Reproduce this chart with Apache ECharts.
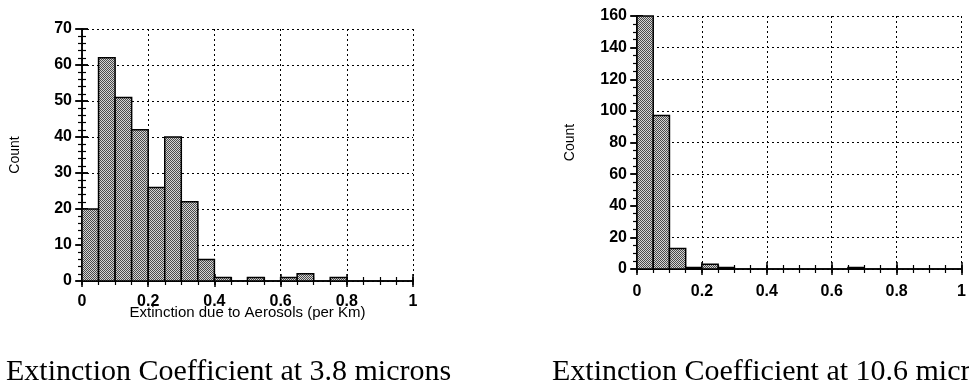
<!DOCTYPE html>
<html>
<head>
<meta charset="utf-8">
<script src="https://cdn.jsdelivr.net/npm/echarts@6/dist/echarts.min.js"></script>
<style>
html,body{margin:0;padding:0;background:#fff;}
#chart{width:969px;height:381px;}
</style>
</head>
<body>
<div id="chart"></div>
<script>
// ---- data ----
const binStarts = [0,0.05,0.1,0.15,0.2,0.25,0.3,0.35,0.4,0.45,0.5,0.55,0.6,0.65,0.7,0.75,0.8,0.85,0.9,0.95];
const binWidth = 0.05;
const counts38  = [20,62,51,42,26,40,22,6,1,0,1,0,1,2,0,1,0,0,0,0];
const counts106 = [160,97,13,1,3,1,0,0,0,0,0,0,0,1,0,0,0,0,0,0];
const title38 = 'Extinction Coefficient at 3.8 microns';
const title106 = 'Extinction Coefficient at 10.6 microns';
const xName38 = 'Extinction due to Aerosols (per Km)';
const yName = 'Count';

// stipple fill pattern
const pc = document.createElement('canvas');
pc.width = 2; pc.height = 2;
const pctx = pc.getContext('2d');
pctx.fillStyle = '#d4d4d4'; pctx.fillRect(0,0,2,2);
pctx.fillStyle = '#4a4a4a'; pctx.fillRect(0,0,1,1); pctx.fillRect(1,1,1,1);
const stipple = {image: pc, repeat: 'repeat'};

const FONT = "'Liberation Sans', Arial, Helvetica, sans-serif";
const lineC = '#000';

function makeData(counts){ return binStarts.map((s,i)=>[s, s+binWidth, counts[i]]); }

function xAxes(grid, opts){
  const base = {type:'value', gridIndex:grid, min:0, max:1, interval:0.2};
  return [
    Object.assign({}, base, {position:'bottom',
      axisLine:{show:true, lineStyle:{color:lineC, width:1.5}},
      axisTick:{show:true, inside:false, length:6, lineStyle:{color:lineC, width:1.5}},
      axisLabel:{show:true, margin:opts.labelMargin, color:'#000', fontFamily:FONT, fontSize:16, fontWeight:'bold',
        formatter:v=>String(v)},
      splitLine:{show:true, lineStyle:{color:'#000', type:[2,3], width:1}},
      name:opts.name||'', nameLocation:'middle', nameGap:opts.nameGap||0, nameMoveOverlap:false,
      nameTextStyle:{color:'#000', fontFamily:FONT, fontSize:15}}),
    Object.assign({}, base, {position:'bottom',
      axisLine:{show:false}, axisLabel:{show:false}, splitLine:{show:false},
      axisTick:{show:true, inside:true, length:4, lineStyle:{color:lineC, width:1.5}},
      minorTick:{show:true, splitNumber:4, length:4, lineStyle:{color:lineC, width:1.2}}}),
    Object.assign({}, base, {position:'top',
      axisLine:{show:true, lineStyle:{color:lineC, width:1.5}}, axisLabel:{show:false}, splitLine:{show:false},
      axisTick:{show:true, inside:false, length:7, lineStyle:{color:lineC, width:1.5}}}),
    Object.assign({}, base, {position:'top',
      axisLine:{show:false}, axisLabel:{show:false}, splitLine:{show:false},
      axisTick:{show:true, inside:true, length:4, lineStyle:{color:lineC, width:1.5}},
      minorTick:{show:true, splitNumber:4, length:4, lineStyle:{color:lineC, width:1.2}}})
  ];
}
function yAxes(grid, max, interval, minorSplit, opts){
  const base = {type:'value', gridIndex:grid, min:0, max:max, interval:interval};
  return [
    Object.assign({}, base, {position:'left',
      axisLine:{show:true, lineStyle:{color:lineC, width:1.5}},
      axisTick:{show:true, inside:false, length:7, lineStyle:{color:lineC, width:1.5}},
      axisLabel:{show:true, margin:10, color:'#000', fontFamily:FONT, fontSize:16, fontWeight:'bold'},
      splitLine:{show:true, lineStyle:{color:'#000', type:[2,3], width:1}},
      name:yName, nameLocation:'middle', nameGap:opts.nameGap, nameRotate:90,
      nameTextStyle:{color:'#000', fontFamily:FONT, fontSize:14}}),
    Object.assign({}, base, {position:'left',
      axisLine:{show:false}, axisLabel:{show:false}, splitLine:{show:false},
      axisTick:{show:true, inside:true, length:6, lineStyle:{color:lineC, width:1.5}},
      minorTick:{show:true, splitNumber:minorSplit, length:4, lineStyle:{color:lineC, width:1.2}}}),
    Object.assign({}, base, {position:'right',
      axisLine:{show:true, lineStyle:{color:lineC, width:1.5}}, axisLabel:{show:false}, splitLine:{show:false},
      axisTick:{show:true, inside:false, length:6, lineStyle:{color:lineC, width:1.5}}}),
    Object.assign({}, base, {position:'right',
      axisLine:{show:false}, axisLabel:{show:false}, splitLine:{show:false},
      axisTick:{show:true, inside:true, length:6, lineStyle:{color:lineC, width:1.5}},
      minorTick:{show:true, splitNumber:minorSplit, length:4, lineStyle:{color:lineC, width:1.2}}})
  ];
}

function renderBar(params, api){
  const x0 = api.value(0), x1 = api.value(1), c = api.value(2);
  if (!c) return null;
  const p0 = api.coord([x0, 0]);
  const p1 = api.coord([x1, c]);
  return {type:'rect', z2:10,
    shape:{x:p0[0], y:p1[1], width:p1[0]-p0[0], height:p0[1]-p1[1]},
    style:{fill:stipple, stroke:'#000', lineWidth:1.5}};
}

const chart = echarts.init(document.getElementById('chart'), null, {renderer:'canvas'});
chart.setOption({
  animation:false,
  backgroundColor:'#fff',
  title:[
    {text:title38, left:1, top:352, textStyle:{fontFamily:"'Liberation Serif','Times New Roman',serif", fontSize:30, fontWeight:'normal', color:'#000'}},
    {text:title106, left:547, top:352, textStyle:{fontFamily:"'Liberation Serif','Times New Roman',serif", fontSize:30, fontWeight:'normal', color:'#000'}}
  ],
  grid:[
    {left:82, right:556, top:29, bottom:100},
    {left:637, right:1, top:16, bottom:112}
  ],
  xAxis: xAxes(0, {labelMargin:13, name:xName38, nameGap:24}).concat(xAxes(1, {labelMargin:15})),
  yAxis: yAxes(0, 70, 10, 5, {nameGap:60}).concat(yAxes(1, 160, 20, 4, {nameGap:60})),
  series:[
    {type:'custom', xAxisIndex:0, yAxisIndex:0, renderItem:renderBar, encode:{x:[0,1], y:2}, data:makeData(counts38), z:5},
    {type:'custom', xAxisIndex:4, yAxisIndex:4, renderItem:renderBar, encode:{x:[0,1], y:2}, data:makeData(counts106), z:5}
  ]
});
</script>
</body>
</html>
